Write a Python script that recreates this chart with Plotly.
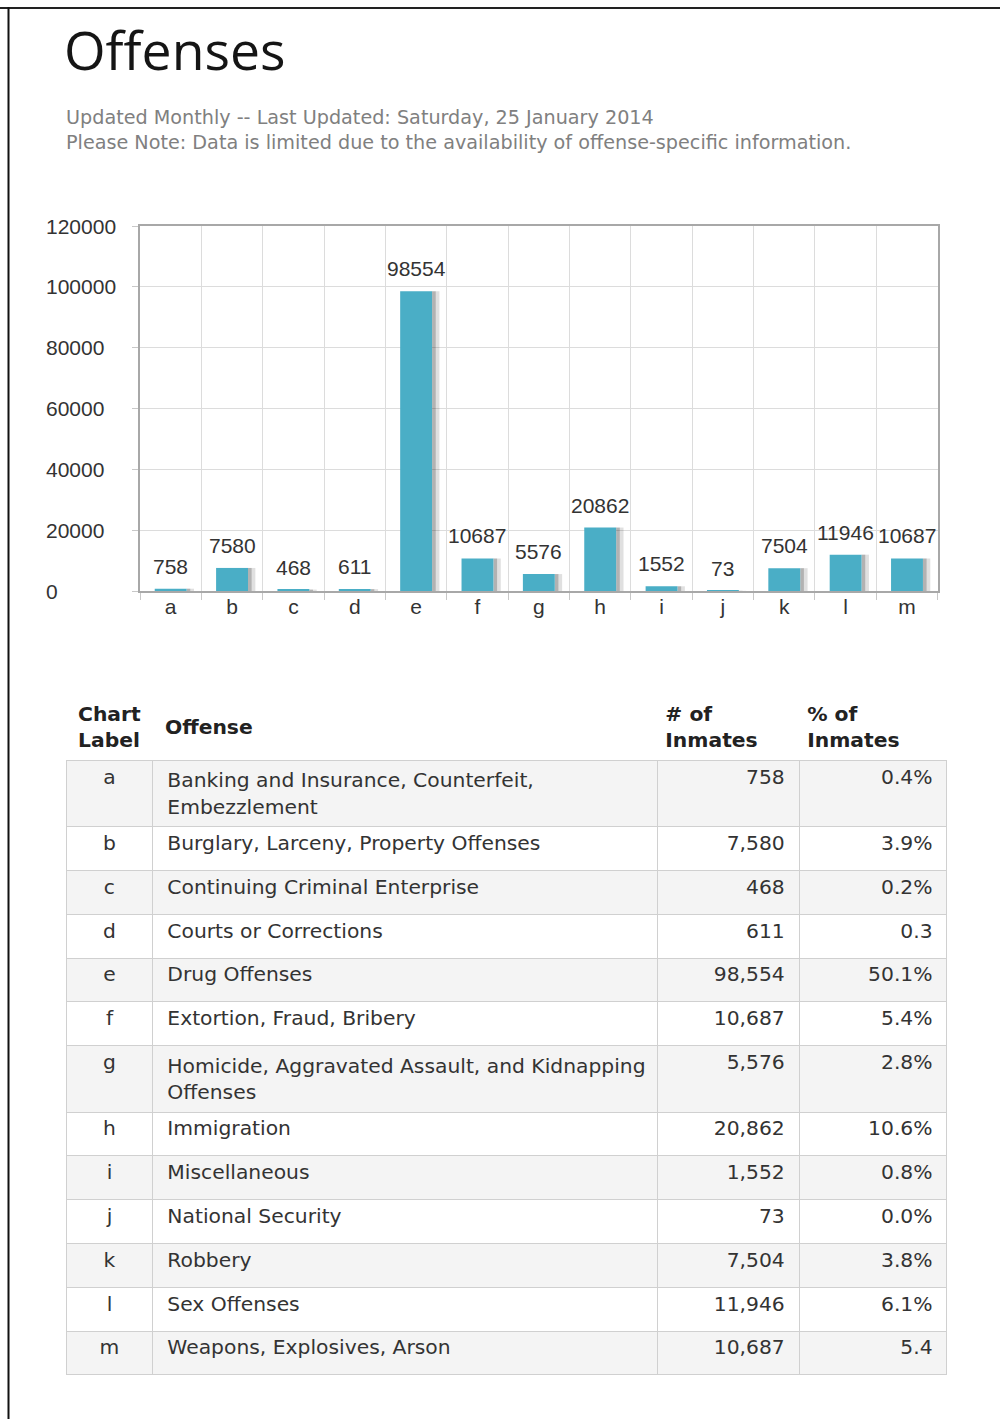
import plotly.graph_objects as go

W, H = 1000, 1419

# ---- data ----
labels = ["a", "b", "c", "d", "e", "f", "g", "h", "i", "j", "k", "l", "m"]
offenses = [
    "Banking and Insurance, Counterfeit,<br>Embezzlement",
    "Burglary, Larceny, Property Offenses",
    "Continuing Criminal Enterprise",
    "Courts or Corrections",
    "Drug Offenses",
    "Extortion, Fraud, Bribery",
    "Homicide, Aggravated Assault, and Kidnapping<br>Offenses",
    "Immigration",
    "Miscellaneous",
    "National Security",
    "Robbery",
    "Sex Offenses",
    "Weapons, Explosives, Arson",
]
inmates = [758, 7580, 468, 611, 98554, 10687, 5576, 20862, 1552, 73, 7504, 11946, 10687]
pct_labels = ["0.4%", "3.9%", "0.2%", "0.3", "50.1%", "5.4%", "2.8%", "10.6%",
              "0.8%", "0.0%", "3.8%", "6.1%", "5.4"]
y_ticks = [0, 20000, 40000, 60000, 80000, 100000, 120000]
header_labels = ["Chart<br>Label", "Offense", "# of<br>Inmates", "% of<br>Inmates"]

title_text = "Offenses"
subtitle_lines = [
    "Updated Monthly -- Last Updated: Saturday, 25 January 2014",
    "Please Note: Data is limited due to the availability of offense-specific information.",
]

BAR = "#4aaec6"
NB = "\u00a0"
TS = "\u2009"
TXT = 20.3


def py(px):
    return 1 - px / H


fig = go.Figure()

# bar shadows
fig.add_trace(go.Bar(x=labels, y=inmates, width=0.06, offset=0.26,
                     marker=dict(color="rgba(0,0,0,0.30)", line=dict(width=0)),
                     hoverinfo="skip", showlegend=False))
fig.add_trace(go.Bar(x=labels, y=inmates, width=0.06, offset=0.32,
                     marker=dict(color="rgba(0,0,0,0.12)", line=dict(width=0)),
                     hoverinfo="skip", showlegend=False))
# main bars
fig.add_trace(go.Bar(
    x=labels, y=inmates, width=0.52, offset=-0.26,
    marker=dict(color=BAR, line=dict(width=0)),
    showlegend=False,
))

# table
fills = ["#f4f4f4" if i % 2 == 0 else "#ffffff" for i in range(len(labels))]
fig.add_trace(go.Table(
    domain=dict(x=[0.066, 0.948], y=[py(1398), py(694)]),
    columnwidth=[87, 505, 142, 148],
    header=dict(
        values=[TS + header_labels[0].replace("<br>", "<br>" + TS), "",
                header_labels[2], header_labels[3]],
        align="left", height=60,
        fill=dict(color="white"), line=dict(color="white", width=0),
        font=dict(family="DejaVu Sans", size=TXT, color="#222222", weight="bold"),
    ),
    cells=dict(
        values=[labels,
                [NB + o.replace("<br>", "<br>" + NB) for o in offenses],
                [f"{v:,}" + NB for v in inmates],
                [p + NB for p in pct_labels]],
        align=["center", "left", "right", "right"],
        height=43.8,
        fill=dict(color=[fills] * 4),
        line=dict(color="#d0d0d0", width=1),
        font=dict(family="DejaVu Sans", size=TXT, color="#333333"),
    ),
))

annotations = [
    dict(text=title_text, x=62 / W, y=py(49), xref="paper", yref="paper",
         xanchor="left", yanchor="middle", showarrow=False,
         font=dict(family="Open Sans", size=53.5, color="#151515")),
    dict(text=header_labels[1], x=163 / W, y=py(727), xref="paper", yref="paper",
         xanchor="left", yanchor="middle", showarrow=False,
         font=dict(family="DejaVu Sans", size=TXT, color="#222222", weight="bold")),
]
for i, line in enumerate(subtitle_lines):
    annotations.append(dict(text=line, x=64 / W, y=py(117 + 26 * i), xref="paper", yref="paper",
                            xanchor="left", yanchor="middle", showarrow=False,
                            font=dict(family="DejaVu Sans", size=19.2, color="#808080")))
# left-aligned y tick labels placed on the axis scale
for t in y_ticks:
    annotations.append(dict(text=str(t), x=44 / W, y=t, xref="paper", yref="y",
                            xanchor="left", yanchor="middle", showarrow=False,
                            font=dict(family="Liberation Sans", size=21, color="#333333")))
# value labels above bars
for lab, v in zip(labels, inmates):
    annotations.append(dict(text=str(v), x=lab, y=v, xref="x", yref="y",
                            xanchor="center", yanchor="bottom", yshift=9, showarrow=False,
                            font=dict(family="Liberation Sans", size=21, color="#333333")))

shapes = [
    dict(type="line", xref="paper", yref="paper", x0=0, x1=1, y0=py(8), y1=py(8),
         line=dict(color="#222222", width=2)),
    dict(type="line", xref="paper", yref="paper", x0=8.5 / W, x1=8.5 / W, y0=0, y1=py(7),
         line=dict(color="#111111", width=2)),
]

fig.update_layout(
    width=W, height=H, template="none",
    margin=dict(l=0, r=0, t=0, b=0),
    paper_bgcolor="white", plot_bgcolor="white",
    barmode="overlay", showlegend=False,
    annotations=annotations, shapes=shapes,
    xaxis=dict(domain=[140 / W, 938 / W], anchor="y", type="category",
               tickson="boundaries", ticks="outside", ticklen=7, tickcolor="#c8c8c8",
               ticklabelstandoff=-4,
               showgrid=True, gridcolor="#dcdcdc", gridwidth=1,
               showline=True, linecolor="#a8a8a8", linewidth=2, mirror=True,
               tickfont=dict(family="Liberation Sans", size=21, color="#333333"),
               fixedrange=True),
    yaxis=dict(domain=[py(591), py(226)], anchor="x", range=[0, 120000],
               tickvals=y_ticks, showticklabels=False,
               ticks="outside", ticklen=6, tickcolor="#c8c8c8",
               showgrid=True, gridcolor="#dcdcdc", gridwidth=1, zeroline=False,
               showline=True, linecolor="#a8a8a8", linewidth=2, mirror=True,
               fixedrange=True),
)

fig.write_html("out.html")
